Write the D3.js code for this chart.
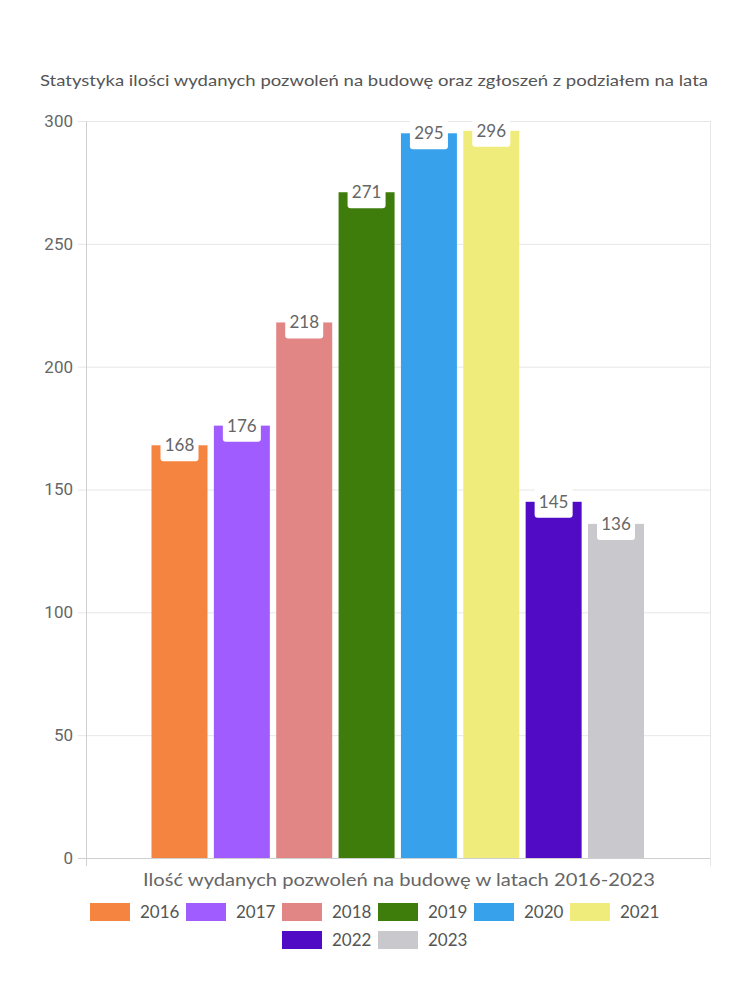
<!DOCTYPE html>
<html><head><meta charset="utf-8">
<script src="https://cdn.jsdelivr.net/npm/d3@7"></script>
<style>body{margin:0;background:#fff;}svg{display:block;}</style>
</head><body>
<svg id="c" width="750" height="1000"></svg>
<script>
const years = ["2016","2017","2018","2019","2020","2021","2022","2023"];
const values = [168,176,218,271,295,296,145,136];
const colors = ["#F58440","#A15CFF","#E28585","#3E7D0B","#37A2EB","#F0EC7C","#510BC4","#C9C9CD"];
const yTicks = [0,50,100,150,200,250,300];
const title = "Statystyka ilości wydanych pozwoleń na budowę oraz zgłoszeń z podziałem na lata";
const xTitle = "Ilość wydanych pozwoleń na budowę w latach 2016-2023";

const svg = d3.select("#c");
const L=86, R=710, T=121, B=858;
const y = d3.scaleLinear().domain([0,300]).range([B,T]);
const x = d3.scaleBand().domain(years).range([151.5,644]).paddingInner(0.102).paddingOuter(0);

const txtFont = "Lato, 'Noto Sans', sans-serif";
svg.append("text").attr("x",374).attr("y",86).attr("text-anchor","middle")
  .attr("font-family",txtFont).attr("font-size",16).attr("fill","#555")
  .attr("textLength",668).attr("lengthAdjust","spacingAndGlyphs").text(title);

// grid
svg.append("g").selectAll("line").data(yTicks).join("line")
  .attr("x1",L-8).attr("x2",R).attr("y1",d=>y(d)+0.5).attr("y2",d=>y(d)+0.5)
  .attr("stroke",d=>d===0?"#cfcfcf":"#e6e6e6").attr("stroke-width",1);
svg.append("line").attr("x1",L+0.5).attr("x2",L+0.5).attr("y1",T).attr("y2",B+8).attr("stroke","#cfcfcf");
svg.append("line").attr("x1",R+0.5).attr("x2",R+0.5).attr("y1",T).attr("y2",B+8).attr("stroke","#e6e6e6");

const yAxis = d3.axisLeft(y).tickValues(yTicks).tickSize(0).tickPadding(13);
const ga = svg.append("g").attr("transform",`translate(${L},0)`).call(yAxis);
ga.select(".domain").remove();
ga.selectAll("text").attr("font-family","Roboto, sans-serif").attr("font-size",17).attr("fill","#666");

// bars
svg.append("g").selectAll("rect").data(values).join("rect")
  .attr("x",(d,i)=>x(years[i])).attr("width",x.bandwidth())
  .attr("y",d=>y(d)).attr("height",d=>B-y(d)).attr("fill",(d,i)=>colors[i]);

// labels
const lab = svg.append("g").selectAll("g").data(values).join("g")
  .attr("transform",(d,i)=>`translate(${x(years[i])+x.bandwidth()/2},${y(d)})`);
lab.append("rect").attr("x",-19).attr("y",-16).attr("width",38).attr("height",32).attr("rx",3).attr("fill","#fff");
lab.append("text").attr("text-anchor","middle").attr("dy","0.35em")
  .attr("font-family",txtFont).attr("font-size",17).attr("fill","#666").text(d=>d);

// x title
svg.append("text").attr("x",399).attr("y",886).attr("text-anchor","middle")
  .attr("font-family",txtFont).attr("font-size",17).attr("fill","#666")
  .attr("textLength",512).attr("lengthAdjust","spacingAndGlyphs").text(xTitle);

// legend
const rows = [years.slice(0,6), years.slice(6)];
const itemW = 96;
rows.forEach((row,ri)=>{
  const total = row.length*itemW - 6;
  const x0 = 375 - total/2;
  const g = svg.append("g").attr("transform",`translate(${x0},${903+ri*28})`);
  const it = g.selectAll("g").data(row).join("g").attr("transform",(d,i)=>`translate(${i*itemW},0)`);
  it.append("rect").attr("width",40).attr("height",18).attr("fill",d=>colors[years.indexOf(d)]);
  it.append("text").attr("x",50).attr("y",9).attr("dy","0.36em")
    .attr("font-family",txtFont).attr("font-size",17).attr("fill","#555").text(d=>d);
});
</script>
</body></html>
